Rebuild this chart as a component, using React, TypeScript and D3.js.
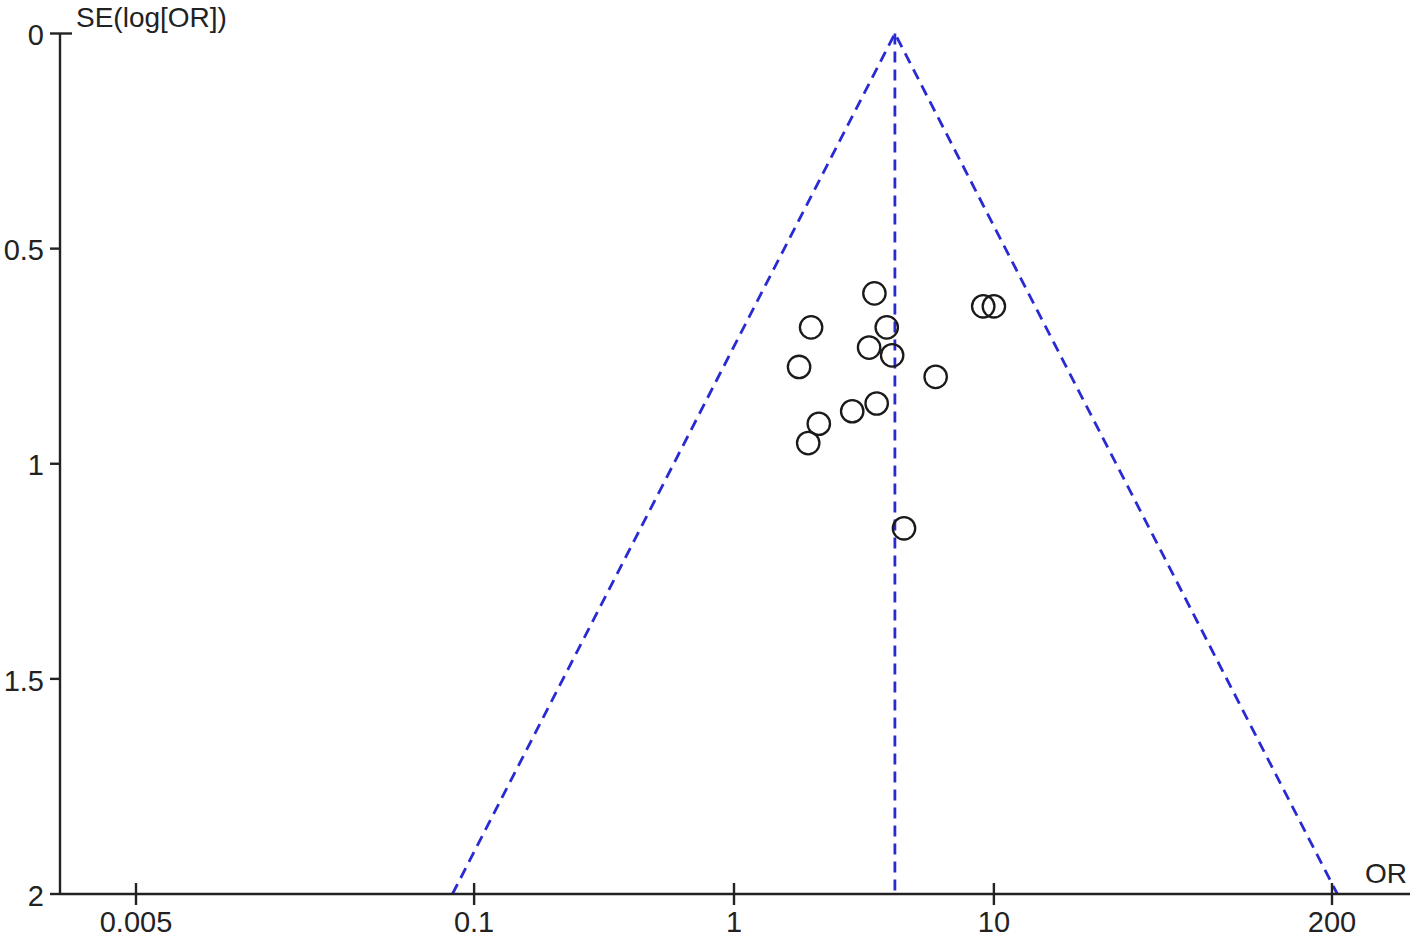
import React from "react";
import * as d3 from "d3";

const studyOR = [3.47, 9.1, 10.0, 1.98, 3.87, 3.31, 4.06, 1.78, 5.97, 3.54, 2.85, 2.12, 1.93, 4.51];
const studySE = [0.604, 0.634, 0.634, 0.683, 0.683, 0.73, 0.748, 0.775, 0.798, 0.86, 0.878, 0.907, 0.952, 1.15];
const pooledOR = 4.16;
const xTicks = [0.005, 0.1, 1, 10, 200];
const xTickLabels = ["0.005", "0.1", "1", "10", "200"];
const yTicks = [0, 0.5, 1, 1.5, 2];
const yTickLabels = ["0", "0.5", "1", "1.5", "2"];

const W = 1417;
const H = 939;
const FONT = "'Liberation Sans', Arial, sans-serif";
const BLUE = "#2a2ad2";

export default function App() {
  const x = d3.scaleLog().domain([0.005, 200]).range([136, 1332]);
  const y = d3.scaleLinear().domain([0, 2]).range([33.5, 894]);
  const axisX0 = 60;
  const axisX1 = 1410;

  const lnP = Math.log(pooledOR);
  const seMax = 2;
  const left = Math.exp(lnP - 1.96 * seMax);
  const right = Math.exp(lnP + 1.96 * seMax);
  const funnel = d3
    .line<[number, number]>()
    .x((d) => x(d[0]))
    .y((d) => y(d[1]));
  const funnelPts: [number, number][] = [
    [left, seMax],
    [pooledOR, 0],
    [right, seMax],
  ];

  return (
    <svg
      width={W}
      height={H}
      style={{ position: "absolute", left: 0, top: 0, background: "#fff" }}
      fontFamily={FONT}
    >
      <rect x={0} y={0} width={W} height={H} fill="#fff" />
      {/* funnel */}
      <path d={funnel(funnelPts) || ""} fill="none" stroke={BLUE} strokeWidth={2.8} strokeDasharray="11 7" />
      <line
        x1={x(pooledOR)}
        x2={x(pooledOR)}
        y1={y(0)}
        y2={y(2)}
        stroke={BLUE}
        strokeWidth={2.8}
        strokeDasharray="11 7"
      />
      {/* axes */}
      <line x1={axisX0} x2={axisX0} y1={y(0)} y2={y(2)} stroke="#222" strokeWidth={2.4} />
      <line x1={axisX0} x2={axisX1} y1={y(2)} y2={y(2)} stroke="#222" strokeWidth={2.4} />
      {yTicks.map((t, i) => (
        <g key={"y" + i}>
          <line x1={50} x2={i === 0 ? 72 : axisX0} y1={y(t)} y2={y(t)} stroke="#222" strokeWidth={2.4} />
          <text x={44} y={y(t) + 4} textAnchor="end" dominantBaseline="middle" fontSize={29} fill="#222">
            {yTickLabels[i]}
          </text>
        </g>
      ))}
      {xTicks.map((t, i) => (
        <g key={"x" + i}>
          <line x1={x(t)} x2={x(t)} y1={883} y2={905} stroke="#222" strokeWidth={2.4} />
          <text x={x(t)} y={932} textAnchor="middle" fontSize={29} fill="#222">
            {xTickLabels[i]}
          </text>
        </g>
      ))}
      <text x={76} y={27} fontSize={28} fill="#222">
        SE(log[OR])
      </text>
      <text x={1365} y={883} fontSize={28} fill="#222">
        OR
      </text>
      {/* points */}
      {studyOR.map((o, i) => (
        <circle key={"p" + i} cx={x(o)} cy={y(studySE[i])} r={11.2} fill="none" stroke="#1a1a1a" strokeWidth={2.3} />
      ))}
    </svg>
  );
}
